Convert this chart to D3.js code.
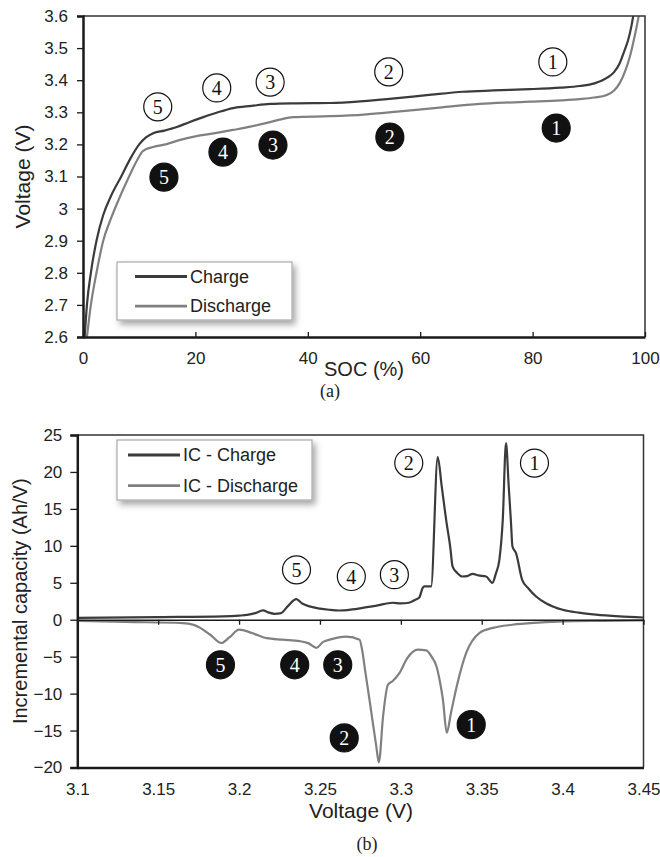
<!DOCTYPE html>
<html>
<head>
<meta charset="utf-8">
<script src="https://cdn.jsdelivr.net/npm/d3@7"></script>
<style>
  body { margin: 0; background: #fff; }
  svg { display: block; font-family: "Liberation Sans", Arial, sans-serif; }
</style>
</head>
<body>
<div id="app"></div>
<script>
// ---- (a) voltage vs SOC
const socCharge = [0.3, 0.7, 1.4, 2.4, 3.6, 5.0, 6.8, 8.4, 10.0, 11.2, 12.5, 14.5, 16.7, 19, 21.4, 24, 26.7, 30, 33.3, 38, 44, 50, 55.9, 62, 67.6, 73, 79.5, 85, 88.4, 91, 93.2, 94.5, 95.5, 96.3, 97, 97.6, 98];
const vCharge = [2.6, 2.7, 2.8, 2.9, 2.98, 3.04, 3.1, 3.155, 3.2, 3.222, 3.235, 3.243, 3.254, 3.27, 3.285, 3.3, 3.313, 3.32, 3.326, 3.328, 3.329, 3.335, 3.344, 3.355, 3.364, 3.368, 3.372, 3.377, 3.382, 3.39, 3.407, 3.425, 3.453, 3.49, 3.525, 3.57, 3.61];
const socDischarge = [0.7, 1.4, 2.4, 3.6, 5.0, 6.4, 8.2, 9.6, 10.7, 12.5, 14.9, 17.3, 20, 23.5, 26.7, 30, 32.7, 35, 37.4, 44, 50, 55.9, 63, 70.6, 75, 79.5, 85, 88.4, 91, 93.2, 94.5, 95.5, 96.5, 97.3, 98.2, 99];
const vDischarge = [2.6, 2.7, 2.8, 2.9, 2.97, 3.03, 3.1, 3.15, 3.18, 3.192, 3.201, 3.214, 3.225, 3.235, 3.245, 3.256, 3.267, 3.277, 3.285, 3.288, 3.293, 3.302, 3.314, 3.326, 3.33, 3.333, 3.337, 3.341, 3.346, 3.354, 3.368, 3.391, 3.43, 3.473, 3.54, 3.61];
const socTicks = [0, 20, 40, 60, 80, 100];
const vTicks = [2.6, 2.7, 2.8, 2.9, 3, 3.1, 3.2, 3.3, 3.4, 3.5, 3.6];
// marker labels: number, x, y
const markNums = [1, 2, 3, 4, 5];
const openSoc = [83.6, 54.4, 33.3, 23.8, 13.3];
const openV = [3.457, 3.426, 3.394, 3.376, 3.317];
const fillSoc = [84.2, 54.6, 33.8, 24.9, 14.4];
const fillV = [3.251, 3.223, 3.198, 3.176, 3.098];

// ---- (b) incremental capacity vs voltage
const vIcCharge = [3.10, 3.15, 3.19, 3.20, 3.205, 3.21, 3.2148, 3.218, 3.222, 3.226, 3.23, 3.2354, 3.239, 3.2436, 3.25, 3.2556, 3.262, 3.27, 3.2763, 3.285, 3.2948, 3.30, 3.305, 3.309, 3.3114, 3.3135, 3.3145, 3.3187, 3.3228, 3.3253, 3.328, 3.3305, 3.332, 3.335, 3.338, 3.341, 3.3443, 3.348, 3.3527, 3.3566, 3.3588, 3.3609, 3.363, 3.365, 3.3667, 3.368, 3.369, 3.3712, 3.375, 3.379, 3.3836, 3.39, 3.40, 3.41, 3.4206, 3.435, 3.45];
const icCharge = [0.25, 0.35, 0.45, 0.55, 0.65, 0.9, 1.26, 1.0, 0.8, 0.9, 1.8, 2.8, 2.2, 1.8, 1.5, 1.35, 1.25, 1.4, 1.6, 1.9, 2.3, 2.2, 2.3, 2.7, 3.0, 4.3, 4.5, 4.5, 22.0, 18, 13.5, 9.9, 7.2, 6.3, 5.85, 5.9, 6.2, 6.0, 5.85, 5.0, 6.3, 8.1, 13.5, 23.9, 18, 13.5, 9.9, 9, 5.4, 4.2, 3.15, 2.2, 1.35, 0.95, 0.68, 0.45, 0.3];
const vIcDischarge = [3.10, 3.13, 3.165, 3.172, 3.176, 3.182, 3.189, 3.194, 3.20, 3.208, 3.217, 3.227, 3.2375, 3.243, 3.2478, 3.252, 3.256, 3.2663, 3.2745, 3.276, 3.278, 3.2806, 3.2848, 3.2864, 3.289, 3.292, 3.295, 3.2992, 3.304, 3.3105, 3.3157, 3.319, 3.322, 3.324, 3.326, 3.3284, 3.331, 3.335, 3.3404, 3.3485, 3.357, 3.369, 3.385, 3.40, 3.425, 3.45];
const icDischarge = [-0.15, -0.3, -0.45, -0.7, -1.1, -2.0, -3.15, -2.4, -1.35, -1.8, -2.5, -2.7, -2.9, -3.2, -3.8, -3.0, -2.7, -2.3, -2.7, -4, -7, -10.8, -17.1, -19.3, -13.1, -8.8, -8.3, -7.2, -5.2, -4.05, -4.15, -5.0, -6.3, -8.2, -10.8, -15.3, -12.6, -8.6, -4.5, -1.8, -1.1, -0.68, -0.4, -0.23, -0.15, -0.09];
const voltTicks = [3.1, 3.15, 3.2, 3.25, 3.3, 3.35, 3.4, 3.45];
const icTicks = [-20, -15, -10, -5, 0, 5, 10, 15, 20, 25];
const openVb = [3.3826, 3.3049, 3.296, 3.2694, 3.2355];
const openIc = [21.2, 21.2, 6.1, 5.85, 6.75];
const fillVb = [3.3435, 3.265, 3.261, 3.2344, 3.1885];
const fillIc = [-14.2, -16, -6.1, -6.1, -6.1];

const W = 660, H = 857;
const chargeColor = "#3b3b3b";
const dischargeColor = "#808080";
const textColor = "#222";

const svg = d3.select("#app").append("svg")
  .attr("width", W).attr("height", H);

const defs = svg.append("defs");
const shadow = defs.append("filter").attr("id", "shadow")
  .attr("x", "-10%").attr("y", "-10%").attr("width", "130%").attr("height", "140%");
shadow.append("feDropShadow")
  .attr("dx", 3).attr("dy", 4).attr("stdDeviation", 3)
  .attr("flood-color", "#000").attr("flood-opacity", 0.35);

function toPoints(xs, ys) {
  return xs.map((d, i) => [d, ys[i]]);
}

function frame(g, x, y) {
  const [x0, x1] = x.range();
  const [y0, y1] = y.range();
  // thin top and right
  g.append("path")
    .attr("d", `M${x0},${y1}H${x1}V${y0}`)
    .attr("fill", "none").attr("stroke", "#333").attr("stroke-width", 1.5);
}

function styleAxis(g, width) {
  g.select(".domain").attr("stroke", "#1a1a1a").attr("stroke-width", width);
  g.selectAll(".tick line").attr("stroke", "#1a1a1a").attr("stroke-width", 1.3);
  g.selectAll(".tick text")
    .attr("font-size", 17).attr("fill", textColor)
    .attr("font-family", "Liberation Sans, Arial, sans-serif");
}

function legend(g, x0, y0, w, h, lineX, items) {
  const lg = g.append("g").attr("transform", `translate(${x0},${y0})`);
  lg.append("rect").attr("width", w).attr("height", h)
    .attr("fill", "#fff").attr("stroke", "#aaa").attr("stroke-width", 1.2)
    .attr("filter", "url(#shadow)");
  items.forEach((it, i) => {
    const yy = h * (i === 0 ? 0.25 : 0.76);
    lg.append("line").attr("x1", lineX).attr("x2", lineX + 52).attr("y1", yy).attr("y2", yy)
      .attr("stroke", it.color).attr("stroke-width", 2.8);
    lg.append("text").attr("x", lineX + 55).attr("y", yy).attr("dy", "0.35em")
      .attr("font-size", 18).attr("fill", textColor).text(it.label);
  });
}

function marker(g, cx, cy, n, filled) {
  g.append("circle").attr("cx", cx).attr("cy", cy).attr("r", 14)
    .attr("fill", filled ? "#111" : "#fff")
    .attr("stroke", "#111").attr("stroke-width", 1.2);
  g.append("text").attr("x", cx).attr("y", cy).attr("dy", "0.36em")
    .attr("text-anchor", "middle")
    .attr("font-family", "Liberation Serif, 'DejaVu Serif', serif")
    .attr("font-size", 20)
    .attr("fill", filled ? "#fff" : "#111")
    .text(n);
}

// ================= (a)
{
  const x = d3.scaleLinear().domain([0, 100]).range([83, 645]);
  const y = d3.scaleLinear().domain([2.6, 3.6]).range([337, 16]);
  const g = svg.append("g");

  defs.append("clipPath").attr("id", "clipA").append("rect")
    .attr("x", 83).attr("y", 16).attr("width", 562).attr("height", 321);

  const line = d3.line().x(d => x(d[0])).y(d => y(d[1])).curve(d3.curveMonotoneX);
  const lines = g.append("g").attr("clip-path", "url(#clipA)");
  lines.append("path").datum(toPoints(socDischarge, vDischarge))
    .attr("d", line).attr("fill", "none")
    .attr("stroke", dischargeColor).attr("stroke-width", 2.2);
  lines.append("path").datum(toPoints(socCharge, vCharge))
    .attr("d", line).attr("fill", "none")
    .attr("stroke", chargeColor).attr("stroke-width", 2.2);

  frame(g, x, y);

  const xa = g.append("g").attr("transform", "translate(0,337)")
    .call(d3.axisBottom(x).tickValues(socTicks).tickSizeInner(-5).tickSizeOuter(0).tickPadding(15));
  styleAxis(xa, 2.5);
  const ya = g.append("g").attr("transform", "translate(83,0)")
    .call(d3.axisLeft(y).tickValues(vTicks).tickSize(6).tickPadding(9).tickFormat(d => +d.toFixed(1)));
  styleAxis(ya, 2.5);

  g.append("text").attr("x", 364).attr("y", 376)
    .attr("text-anchor", "middle").attr("font-size", 20).attr("fill", textColor)
    .text("SOC (%)");
  g.append("text").attr("transform", `translate(30,${(16 + 337) / 2}) rotate(-90)`)
    .attr("text-anchor", "middle").attr("font-size", 21).attr("fill", textColor)
    .text("Voltage (V)");
  g.append("text").attr("x", 330).attr("y", 397)
    .attr("text-anchor", "middle").attr("font-size", 18).attr("fill", textColor)
    .attr("font-family", "Liberation Serif, serif")
    .text("(a)");

  legend(g, 117, 262, 175, 58, 18, [
    { label: "Charge", color: chargeColor },
    { label: "Discharge", color: dischargeColor }
  ]);

  markNums.forEach((n, i) => {
    marker(g, x(openSoc[i]), y(openV[i]), n, false);
    marker(g, x(fillSoc[i]), y(fillV[i]), n, true);
  });
}

// ================= (b)
{
  const x = d3.scaleLinear().domain([3.1, 3.45]).range([77.3, 643.5]);
  const y = d3.scaleLinear().domain([-20, 25]).range([767.5, 435]);
  const g = svg.append("g");

  defs.append("clipPath").attr("id", "clipB").append("rect")
    .attr("x", 77.3).attr("y", 435).attr("width", 566.2).attr("height", 332.5);

  const line = d3.line().x(d => x(d[0])).y(d => y(d[1])).curve(d3.curveMonotoneX);
  const lines = g.append("g").attr("clip-path", "url(#clipB)");
  lines.append("path").datum(toPoints(vIcDischarge, icDischarge))
    .attr("d", line).attr("fill", "none")
    .attr("stroke", dischargeColor).attr("stroke-width", 2.2);
  lines.append("path").datum(toPoints(vIcCharge, icCharge))
    .attr("d", line).attr("fill", "none")
    .attr("stroke", chargeColor).attr("stroke-width", 2.2);

  frame(g, x, y);

  // zero line with ticks
  const za = g.append("g").attr("transform", `translate(0,${y(0)})`)
    .call(d3.axisBottom(x).tickValues(voltTicks).tickSizeInner(5).tickSizeOuter(0).tickFormat(""));
  styleAxis(za, 1.5);

  const xa = g.append("g").attr("transform", "translate(0,767.5)")
    .call(d3.axisBottom(x).tickValues(voltTicks).tickSize(0).tickPadding(15).tickFormat(d => +d.toFixed(2)));
  styleAxis(xa, 2.5);
  const ya = g.append("g").attr("transform", "translate(77.3,0)")
    .call(d3.axisLeft(y).tickValues(icTicks).tickSize(7).tickPadding(8));
  styleAxis(ya, 2.5);

  g.append("text").attr("x", 361).attr("y", 818)
    .attr("text-anchor", "middle").attr("font-size", 21).attr("fill", textColor)
    .text("Voltage (V)");
  g.append("text").attr("transform", `translate(27,${(435 + 767.5) / 2}) rotate(-90)`)
    .attr("text-anchor", "middle").attr("font-size", 20).attr("fill", textColor)
    .text("Incremental capacity (Ah/V)");
  g.append("text").attr("x", 367).attr("y", 850)
    .attr("text-anchor", "middle").attr("font-size", 18).attr("fill", textColor)
    .attr("font-family", "Liberation Serif, serif")
    .text("(b)");

  legend(g, 117, 440, 195, 60, 11, [
    { label: "IC - Charge", color: chargeColor },
    { label: "IC - Discharge", color: dischargeColor }
  ]);

  markNums.forEach((n, i) => {
    marker(g, x(openVb[i]), y(openIc[i]), n, false);
    marker(g, x(fillVb[i]), y(fillIc[i]), n, true);
  });
}
</script>
</body>
</html>
